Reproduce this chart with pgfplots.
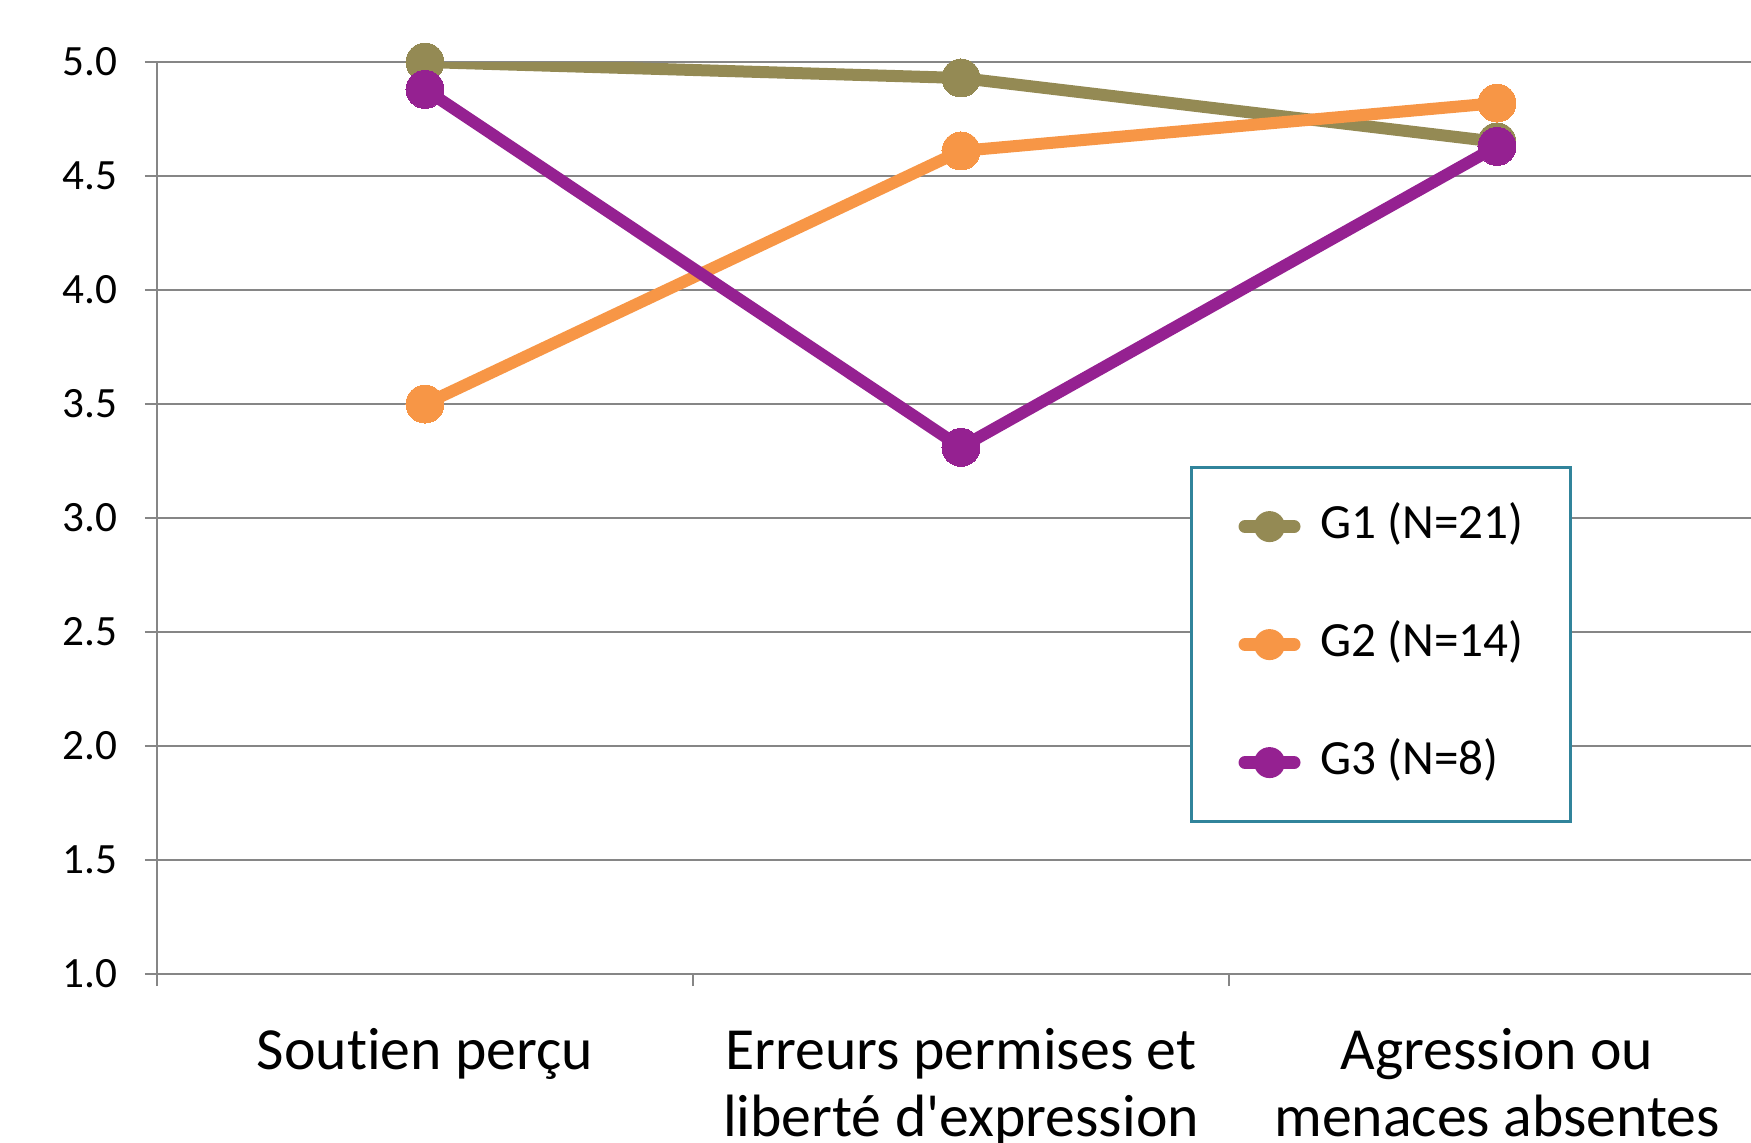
\documentclass[border=0pt]{standalone}
\usepackage{fontspec}
\setmainfont{Carlito}[Ligatures={NoCommon}]
\usepackage{pgfplots}
\pgfplotsset{compat=1.18}
\definecolor{gone}{RGB}{148,138,84}
\definecolor{gtwo}{RGB}{247,150,70}
\definecolor{gthree}{RGB}{149,33,145}
\definecolor{gridgray}{RGB}{134,134,134}
\definecolor{legteal}{RGB}{49,132,155}
\begin{document}
\begin{tikzpicture}
\begin{axis}[
  at={(0,0)}, anchor=south west,
  scale only axis, width=160.8mm, height=91.2mm,
  xmin=-0.5, xmax=2.5, ymin=1, ymax=5,
  axis x line*=bottom, axis y line*=left,
  axis line style={gridgray, line width=0.7pt, -},
  ytick={1,1.5,2,2.5,3,3.5,4,4.5,5},
  /pgf/number format/assume math mode=true,
  yticklabel style={/pgf/number format/fixed, /pgf/number format/fixed zerofill, /pgf/number format/precision=1, font=\fontsize{12.3}{14}\selectfont, xshift=-1.5mm},
  ymajorgrids, grid style={gridgray, line width=0.7pt},
  tick style={gridgray, line width=0.7pt},
  tick align=outside,
  major tick length=1.2mm,
  xtick={-0.5,0.5,1.5,2.5},
  xticklabels={,,,},
  extra x ticks={0,1,2},
  extra x tick labels={Soutien perçu, {Erreurs permises et\\liberté d\textquotesingle expression}, {Agression ou\\menaces absentes}},
  extra x tick style={tick style={draw=none}, grid=none},
  xticklabel style={align=center, font=\fontsize{17}{19}\selectfont, yshift=-3mm},
  legend style={at={(0.6424,0.557)}, anchor=north west, draw=legteal, line width=0.9pt, fill=white,
    inner xsep=4.7mm, inner ysep=3.5mm, row sep=7mm, column sep=2mm,
    font=\fontsize{14}{17}\selectfont,
    nodes={inner sep=0pt, text height=3.6mm, text depth=1.2mm}},
  legend cell align=left,
  legend image code/.code={
    \draw[line width=1.3mm, line cap=round] (0.65mm,0mm) -- (5.55mm,0mm);
    \path[fill, draw=none] (3.1mm,0mm) circle (1.55mm);
  },
]
\addplot[gone, line width=1.2mm, mark=*, mark size=1.9mm, mark options={line width=0pt}] coordinates {(0,5.0) (1,4.93) (2,4.65)};
\addlegendentry{G1 (N=21)}
\addplot[gtwo, line width=1.2mm, mark=*, mark size=1.9mm, mark options={line width=0pt}] coordinates {(0,3.5) (1,4.61) (2,4.82)};
\addlegendentry{G2 (N=14)}
\addplot[gthree, line width=1.2mm, mark=*, mark size=1.9mm, mark options={line width=0pt}] coordinates {(0,4.88) (1,3.31) (2,4.63)};
\addlegendentry{G3 (N=8)}
\end{axis}
\pgfresetboundingbox
\path[use as bounding box] (-15.7mm,-16.8mm) rectangle (159.4mm,97.4mm);
\end{tikzpicture}
\end{document}
